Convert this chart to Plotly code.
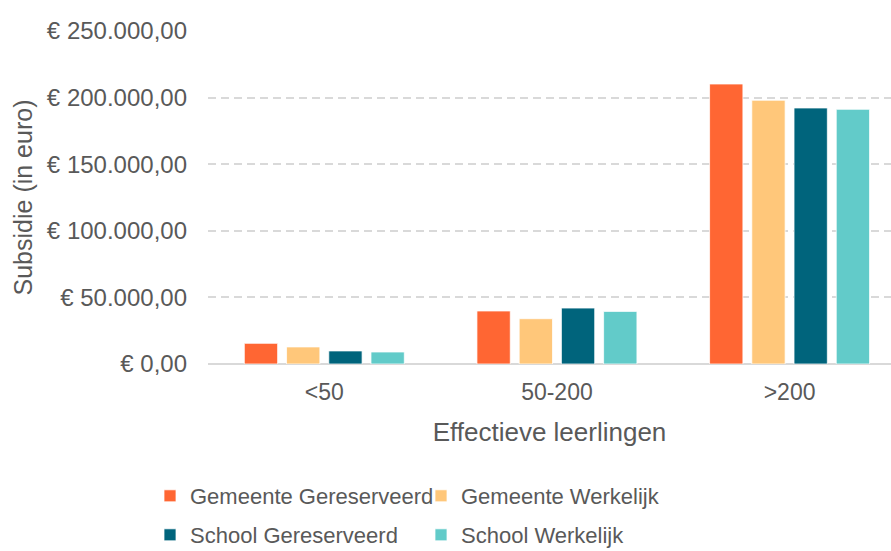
import plotly.graph_objects as go

categories = ["<50", "50-200", ">200"]
gemeente_gereserveerd = [15500, 39800, 210200]
gemeente_werkelijk = [12800, 34000, 198000]
school_gereserveerd = [9800, 42000, 192200]
school_werkelijk = [9000, 39500, 191200]

series_names = ["Gemeente Gereserveerd", "Gemeente Werkelijk", "School Gereserveerd", "School Werkelijk"]
series_values = [gemeente_gereserveerd, gemeente_werkelijk, school_gereserveerd, school_werkelijk]
colors = ["#FF6633", "#FFC77A", "#00647C", "#62CBC9"]
legends = ["legend", "legend", "legend2", "legend2"]

y_ticks = [0, 50000, 100000, 150000, 200000, 250000]
y_tick_labels = ["€ 0,00", "€ 50.000,00", "€ 100.000,00", "€ 150.000,00", "€ 200.000,00", "€ 250.000,00"]

FONT = "Liberation Sans, Arial, sans-serif"
TXT = "#595959"

fig = go.Figure()
for name, vals, col, lg in zip(series_names, series_values, colors, legends):
    fig.add_trace(go.Bar(
        x=categories, y=vals, name=name, legend=lg,
        marker=dict(color=col, line=dict(color="white", width=0.75)),
    ))

legend_common = dict(
    orientation="h",
    xref="container", yref="container",
    xanchor="left", yanchor="middle",
    font=dict(family=FONT, size=22, color=TXT),
    entrywidth=226, entrywidthmode="pixels",
    bgcolor="rgba(0,0,0,0)",
    itemclick=False, itemdoubleclick=False,
)

fig.update_layout(
    width=891, height=551,
    margin=dict(l=208, r=0, t=31, b=187),
    paper_bgcolor="white", plot_bgcolor="white",
    barmode="group", bargap=0.274, bargroupgap=0.211,
    font=dict(family=FONT, color=TXT),
    showlegend=True,
    legend=dict(x=150 / 891, y=1 - 496 / 551, **legend_common),
    legend2=dict(x=150 / 891, y=1 - 535 / 551, **legend_common),
    xaxis=dict(
        range=[-0.5, 2.436],
        tickfont=dict(family=FONT, size=23, color=TXT),
        ticklabelstandoff=12,
        title=dict(text="Effectieve leerlingen", font=dict(family=FONT, size=26, color=TXT), standoff=18),
        showgrid=False, ticks="", showline=False,
    ),
    yaxis=dict(
        range=[0, 250000],
        tickvals=y_ticks,
        ticktext=y_tick_labels,
        tickfont=dict(family=FONT, size=24, color=TXT),
        ticklabelstandoff=20,
        title=dict(text="Subsidie (in euro)", font=dict(family=FONT, size=25, color=TXT), standoff=7),
        showgrid=True, gridcolor="#D9D9D9", gridwidth=1.5, griddash="8px,5px",
        zeroline=True, zerolinecolor="#D9D9D9", zerolinewidth=1.5,
        ticks="", showline=False,
    ),
)

fig.write_html(
    "out.html",
    config={"displayModeBar": False},
    post_script="document.body.style.margin='0';document.body.style.overflow='hidden';",
)
